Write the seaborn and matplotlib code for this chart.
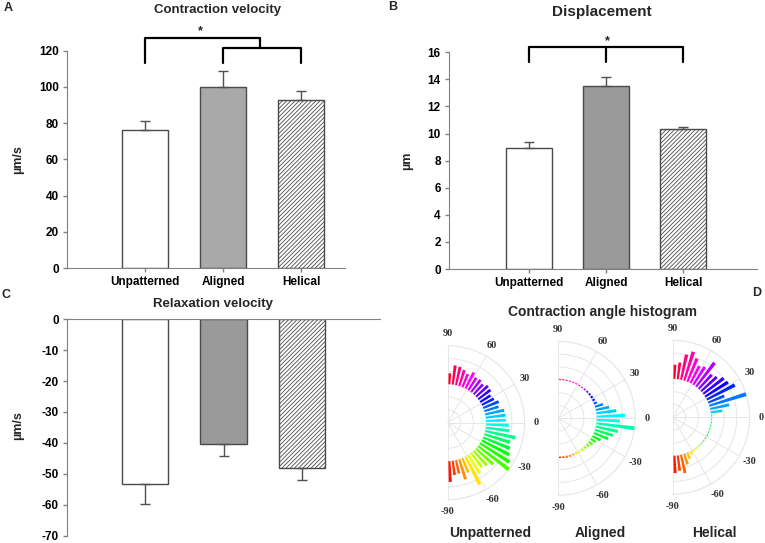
import numpy as np
import matplotlib
matplotlib.use('Agg')
import matplotlib.pyplot as plt
import seaborn as sns

groups = ['Unpatterned', 'Aligned', 'Helical']

contraction_vel = [76, 100, 93]
contraction_err = [5, 9, 5]
displacement = [8.95, 13.5, 10.35]
displacement_err = [0.45, 0.7, 0.15]
relaxation_vel = [-53.3, -40.4, -48.1]
relaxation_err = [6.5, 3.8, 3.8]

# angle histogram, 5 degree bins from -90 to 90
angle_bins = np.arange(-87.5, 90, 5)
hist_unpatterned = [3.24, 2.22, 2.1, 3.24, 2.4, 4.86, 3.3, 2.7, 3.0, 3.6, 6.0, 5.4,
                    4.8, 4.5, 4.2, 4.8, 3.7, 3.5, 3.1, 3.1, 3.0, 2.3, 2.6, 2.1,
                    1.9, 2.4, 2.5, 2.1, 2.4, 2.3, 2.8, 2.2, 2.6, 2.9, 3.0, 1.7]
hist_aligned = [0.2, 0.25, 0.3, 0.3, 0.3, 0.3, 0.3, 0.35, 0.4, 0.5, 0.7, 0.9,
                1.4, 2.4, 2.9, 3.5, 6.0, 3.6, 4.4, 3.1, 2.1, 1.3, 0.5, 0.4,
                0.35, 0.3, 0.25, 0.2, 0.15, 0.15, 0.15, 0.15, 0.15, 0.15, 0.15, 0.15]
hist_helical = [2.7, 2.4, 2.9, 1.7, 1.0, 0.5, 0.25, 0.15, 0.15, 0.15, 0.15, 0.15,
                0.15, 0.15, 0.15, 0.15, 0.15, 0.15, 0.2, 1.8, 3.0, 6.0, 2.7, 4.9,
                4.2, 4.0, 3.3, 3.0, 4.7, 3.3, 3.0, 3.9, 4.7, 4.0, 2.6, 2.2]

sns.set_style('ticks')
plt.rcParams['font.family'] = ['Liberation Sans', 'DejaVu Sans']
plt.rcParams['font.weight'] = 'bold'
plt.rcParams['axes.unicode_minus'] = False
plt.rcParams['hatch.color'] = '#555555'
plt.rcParams['hatch.linewidth'] = 0.6

W, H = 765, 543
fig = plt.figure(figsize=(W / 100, H / 100), dpi=100)

axis_col = '#808080'
edge_col = '#4a4a4a'
grid_col = '#e6e6e6'


def px_axes(x0, y_top, x1, y_bot, **kw):
    return fig.add_axes([x0 / W, 1 - y_bot / H, (x1 - x0) / W, (y_bot - y_top) / H], **kw)


def bar_panel(ax, vals, errs, aligned_col, down=False):
    sns.barplot(x=groups, y=vals, hue=groups, palette=['white', aligned_col, 'white'],
                legend=False, width=0.59, edgecolor=edge_col, linewidth=1.0,
                saturation=1, ax=ax)
    ax.patches[2].set_hatch('////////')
    yerr = [errs, [0, 0, 0]] if down else [[0, 0, 0], errs]
    ax.errorbar([0, 1, 2], vals, yerr=yerr, fmt='none', ecolor='#505050',
                elinewidth=1, capsize=3.5, capthick=1, zorder=1)
    sns.despine(ax=ax)
    for s in ax.spines.values():
        s.set_color(axis_col)
    ax.tick_params(colors=axis_col, labelcolor='black', length=3, width=1,
                   labelsize=8.5, pad=3)
    for lab in ax.get_yticklabels() + ax.get_xticklabels():
        lab.set_fontweight('bold')
    ax.set_xlabel('')


# A
axA = px_axes(67, 50.7, 345, 268)
bar_panel(axA, contraction_vel, contraction_err, '#a9a9a9')
axA.set_xlim(-1.0, 2.56)
axA.set_ylim(0, 120)
axA.set_yticks(range(0, 121, 20))
axA.set_ylabel('µm/s', fontsize=9, fontweight='bold')
axA.yaxis.set_label_coords(-0.155, 0.5)
axA.set_title('Contraction velocity', fontsize=9.5, fontweight='bold', x=0.543, y=1.135)
br = dict(color='black', lw=1.6, clip_on=False)
axA.plot([0, 0, 1.47, 1.47], [113.4, 127, 127, 121.7], **br)
axA.plot([1, 1, 2, 2], [113.4, 121.7, 121.7, 113.4], **br)
axA.text(0.705, 131, '*', ha='center', va='center', fontsize=9, fontweight='bold')

# B
axB = px_axes(449, 52.3, 757, 269)
bar_panel(axB, displacement, displacement_err, '#9a9a9a')
axB.set_xlim(-1.04, 2.96)
axB.set_ylim(0, 16)
axB.set_yticks(range(0, 17, 2))
axB.set_ylabel('µm', fontsize=9, fontweight='bold')
axB.yaxis.set_label_coords(-0.117, 0.5)
axB.set_title('Displacement', fontsize=11, fontweight='bold', x=0.497, y=1.13)
axB.plot([0, 0, 2, 2], [15.3, 16.37, 16.37, 15.3], **br)
axB.plot([1, 1], [16.37, 15.3], **br)
axB.text(1.02, 16.85, '*', ha='center', va='center', fontsize=9, fontweight='bold')

# C
axC = px_axes(67, 319.3, 380, 535.5)
bar_panel(axC, relaxation_vel, relaxation_err, '#9a9a9a', down=True)
axC.set_xlim(-1.0, 3.0)
axC.set_ylim(-70, 0)
axC.set_yticks(range(-70, 1, 10))
axC.spines['bottom'].set_visible(False)
axC.spines['top'].set_visible(True)
axC.spines['top'].set_color(axis_col)
axC.set_xticks([])
axC.set_ylabel('µm/s', fontsize=9, fontweight='bold')
axC.yaxis.set_label_coords(-0.137, 0.507)
axC.set_title('Relaxation velocity', fontsize=9.5, fontweight='bold', x=0.466, y=1.02)

# D - polar histograms
hsv = plt.get_cmap('hsv')
R = 77
centres = [(447.7, 422.7), (558.3, 418.3), (672.7, 417.3)]
hists = [hist_unpatterned, hist_aligned, hist_helical]
polar_rc = {'axes.edgecolor': grid_col, 'xtick.color': grid_col, 'ytick.color': grid_col,
            'grid.color': grid_col, 'axes.linewidth': 0.7,
            'xtick.major.size': 0, 'ytick.major.size': 0,
            'xtick.minor.size': 0, 'ytick.minor.size': 0}
for (cx, cy), counts, name in zip(centres, hists, groups):
    with plt.rc_context(polar_rc):
        # half disc is centred inside a square axes box
        ax = px_axes(cx - R / 2, cy - R, cx + 1.5 * R, cy + R, projection='polar')
        theta = np.deg2rad(angle_bins)
        cols = [hsv((a + 90) / 180) for a in angle_bins]
        ax.bar(theta, counts, width=np.deg2rad(3.0), bottom=6, color=cols, linewidth=0,
               zorder=3)
        ax.set_thetamin(-90)
        ax.set_thetamax(90)
        ax.set_ylim(0, 12)
        ax.set_yticks([2, 4, 6, 8, 10, 12])
        ax.set_yticklabels([])
        ax.set_thetagrids([-90, -60, -30, 0, 30, 60, 90],
                          ['-90', '-60', '-30', '0', '30', '60', '90'],
                          fontsize=7.5, family='Liberation Serif', fontweight='bold',
                          color='#333333')
        ax.tick_params(axis='both', length=0, pad=1.5, color=grid_col)
        ax.xaxis.grid(True, color=grid_col, lw=0.7)
        ax.yaxis.grid(True, color=grid_col, lw=0.7)
        for s in ax.spines.values():
            s.set_edgecolor(grid_col)
            s.set_linewidth(0.7)
        ax.patch.set_alpha(0)
    fig.text((cx + 42) / W, 1 - 533 / H, name, ha='center', va='center',
             fontsize=10, fontweight='bold')

fig.text(602 / W, 1 - 312 / H, 'Contraction angle histogram', ha='center', va='center',
         fontsize=10, fontweight='bold')

# panel letters
for lab, x, y in [('A', 8, 8), ('B', 393, 7), ('C', 6, 295), ('D', 757, 293)]:
    fig.text(x / W, 1 - y / H, lab, ha='center', va='center', fontsize=9, fontweight='bold')

fig.savefig('out.png', dpi=100)
